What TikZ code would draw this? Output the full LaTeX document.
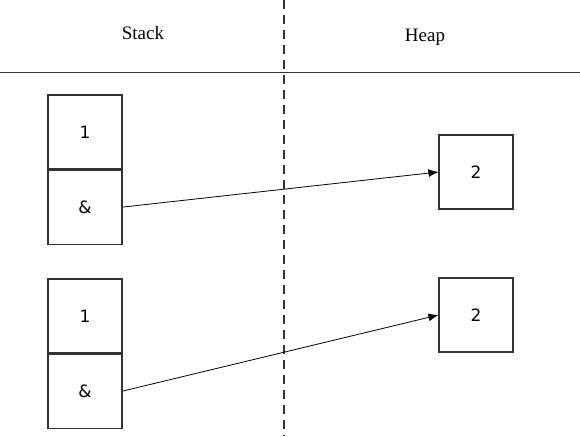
\documentclass[tikz,border=0pt]{standalone}
\usepackage{fontspec}
\setmainfont{Liberation Serif}
\newfontfamily\cellfont{DejaVu Sans}
\usetikzlibrary{positioning,arrows.meta}
\begin{document}
\begin{tikzpicture}[x=1pt, y=-1pt, line width=1pt,
    cell/.style={draw=black!80, line width=1.1pt, minimum size=74pt, inner sep=0pt, font=\cellfont\fontsize{17}{19}\selectfont},
    ptr/.style={-{Latex[length=10pt,width=8pt]}, line width=0.8pt}]
    \useasboundingbox (0,0) rectangle (580,436);

    % 标题与分隔线
    \node[font=\fontsize{19}{21}\selectfont] (stacklbl) at (143,33) {Stack};
    \node[font=\fontsize{19}{21}\selectfont] (heaplbl) at (425,37) {Heap};
    \draw[black!80] (0,72) -- (580,72);
    \draw[black!80, line width=1.2pt, dash pattern=on 9pt off 6pt] (284,0) -- (284,436);

    % 栈上的两组单元
    \node[cell] (val1) at (85,132) {1};
    \node[cell, below=0pt of val1] (ref1) {\&};
    \node[cell] (val2) at (85,316) {1};
    \node[cell, below=0pt of val2] (ref2) {\&};

    % 堆上的对象
    \node[cell] (obj1) at (476,172) {2};
    \node[cell] (obj2) at (476,315) {2};

    % 引用箭头
    \draw[ptr] (ref1.east) -- (obj1.west);
    \draw[ptr] (ref2.east) -- (obj2.west);
\end{tikzpicture}
\end{document}
